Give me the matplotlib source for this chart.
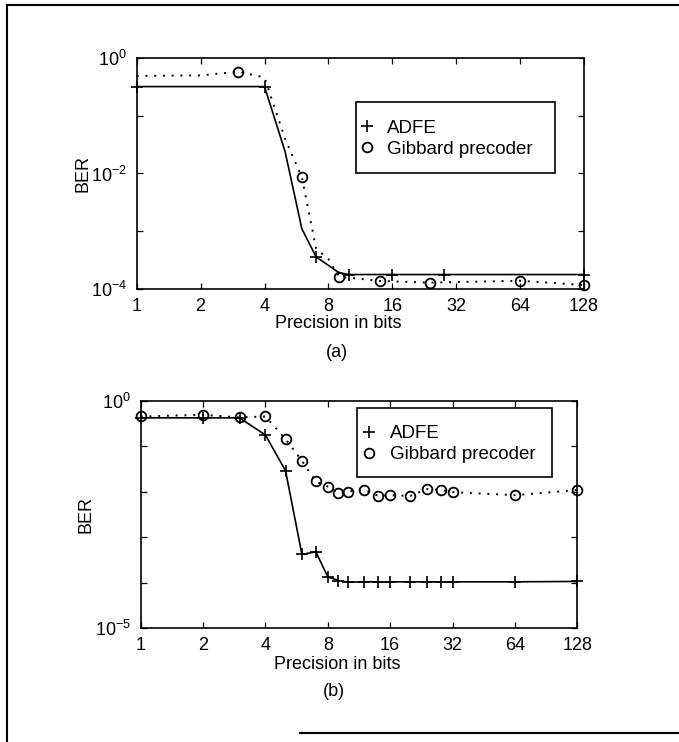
import math
import matplotlib
matplotlib.use("Agg")
import matplotlib.pyplot as plt
from matplotlib.lines import Line2D
from matplotlib.patches import Rectangle
from matplotlib.ticker import FixedLocator, FuncFormatter, NullLocator

plt.rcParams["font.family"] = ["Liberation Sans", "DejaVu Sans"]
plt.rcParams["mathtext.default"] = "regular"

# (a) data
bits_adfe_a = [1, 4, 5, 6, 7, 9, 10, 16, 28, 128]
ber_adfe_a = [0.32, 0.32, 0.024, 1.1e-3, 3.6e-4, 1.9e-4, 1.78e-4, 1.78e-4, 1.78e-4, 1.78e-4]
bits_gib_a = [1, 2, 3, 4, 5, 6, 7, 8, 9, 14, 24, 64, 128]
ber_gib_a = [0.49, 0.50, 0.58, 0.46, 0.04, 8.6e-3, 5.0e-4, 3.3e-4, 1.63e-4, 1.38e-4, 1.29e-4, 1.39e-4, 1.17e-4]

# (b) data
bits_b = [1, 2, 3, 4, 5, 6, 7, 8, 9, 10, 12, 14, 16, 20, 24, 28, 32, 64, 128]
ber_adfe_b = [0.42, 0.42, 0.42, 0.176, 0.029, 4.2e-4, 4.8e-4, 1.35e-4, 1.12e-4, 1.03e-4,
              1.05e-4, 1.05e-4, 1.05e-4, 1.05e-4, 1.05e-4, 1.05e-4, 1.05e-4, 1.05e-4, 1.07e-4]
ber_gib_b = [0.45, 0.49, 0.43, 0.45, 0.144, 0.048, 0.0168, 0.013, 9.2e-3, 0.0101,
             0.0110, 8.1e-3, 8.4e-3, 8.1e-3, 0.0114, 0.0110, 9.8e-3, 8.4e-3, 0.0109]

xticks = [1, 2, 4, 8, 16, 32, 64, 128]
labels = ["ADFE", "Gibbard precoder"]

W, H = 679, 742
fig = plt.figure(figsize=(W / 100, H / 100), dpi=100)


def box(l, t, r, b):
    return [l / W, 1 - b / H, (r - l) / W, (b - t) / H]


def style(ax, ymin_exp, label_exps):
    ax.set_xscale("log", base=2)
    ax.set_yscale("log")
    ax.set_xlim(1, 128)
    ax.set_ylim(10.0 ** ymin_exp, 1)
    ax.xaxis.set_major_locator(FixedLocator(xticks))
    ax.xaxis.set_major_formatter(FuncFormatter(lambda v, p: "%d" % round(v)))
    ax.xaxis.set_minor_locator(NullLocator())
    ax.yaxis.set_major_locator(FixedLocator([10.0 ** e for e in range(ymin_exp, 1)]))
    ax.yaxis.set_minor_locator(NullLocator())

    def yfmt(v, p):
        e = int(round(math.log10(v)))
        return r"$10^{%d}$" % e if e in label_exps else ""

    ax.yaxis.set_major_formatter(FuncFormatter(yfmt))
    ax.tick_params(which="both", direction="in", top=True, right=True, length=4,
                   width=0.9, labelsize=13)
    ax.tick_params(axis="x", pad=6.5)
    ax.tick_params(axis="y", pad=7)
    for s in ax.spines.values():
        s.set_linewidth(1.2)


def curves(ax, bx, by, mk_adfe, gx, gy, mk_gib):
    ax.plot(bx, by, "-", color="k", lw=1.2)
    ax.plot(gx, gy, color="k", lw=1.4, dashes=(1, 3.5))
    ax.plot([bx[i] for i in mk_adfe], [by[i] for i in mk_adfe], "+", color="k",
            ms=9, mew=1.2, ls="none", clip_on=False, label=labels[0])
    ax.plot([gx[i] for i in mk_gib], [gy[i] for i in mk_gib], "o", color="k",
            mfc="none", ms=7, mew=1.3, ls="none", clip_on=False, label=labels[1])


def legend_box(ax, x0, ymid, rect):
    ax.legend(frameon=False, loc="center left", bbox_to_anchor=(x0, ymid),
              borderpad=0, handlelength=1.0, handletextpad=0.6, labelspacing=0.22,
              fontsize=13.5, borderaxespad=0)
    ax.add_patch(Rectangle((rect[0], rect[1]), rect[2] - rect[0], rect[3] - rect[1],
                           transform=ax.transAxes, fill=False, ec="k", lw=1.2))


# top panel (a)
ax1 = fig.add_axes(box(136.7, 58, 584, 289))
style(ax1, -4, (0, -2, -4))
curves(ax1, bits_adfe_a, ber_adfe_a, [0, 1, 4, 6, 7, 8, 9],
       bits_gib_a, ber_gib_a, [2, 5, 8, 9, 10, 11, 12])
legend_box(ax1, 0.493, 0.651, (0.490, 0.501, 0.935, 0.811))
ax1.set_xlabel("Precision in bits", fontsize=13, va="center")
ax1.xaxis.set_label_coords(0.450, -0.148)
ax1.set_ylabel("BER", fontsize=13, va="center")
ax1.yaxis.set_label_coords(-0.120, 0.5)

# bottom panel (b)
ax2 = fig.add_axes(box(140.7, 400.7, 577.3, 628.3))
style(ax2, -5, (0, -5))
curves(ax2, bits_b, ber_adfe_b, list(range(len(bits_b))),
       bits_b, ber_gib_b, list(range(len(bits_b))))
legend_box(ax2, 0.502, 0.809, (0.496, 0.663, 0.943, 0.967))
ax2.set_xlabel("Precision in bits", fontsize=13, va="center")
ax2.xaxis.set_label_coords(0.451, -0.161)
ax2.set_ylabel("BER", fontsize=13, va="center")
ax2.yaxis.set_label_coords(-0.126, 0.5)

fig.text(336.7 / W, 1 - 352 / H, "(a)", fontsize=13, ha="center", va="center")
fig.text(334 / W, 1 - 692 / H, "(b)", fontsize=13, ha="center", va="center")

# scanned page frame
for xs, ys in [([7, 7], [742, 5]), ([7, 679], [5, 5]), ([300, 679], [733, 733])]:
    fig.add_artist(Line2D([x / W for x in xs], [1 - y / H for y in ys],
                          color="k", lw=1.5, transform=fig.transFigure))

fig.savefig("out.png", dpi=100)
